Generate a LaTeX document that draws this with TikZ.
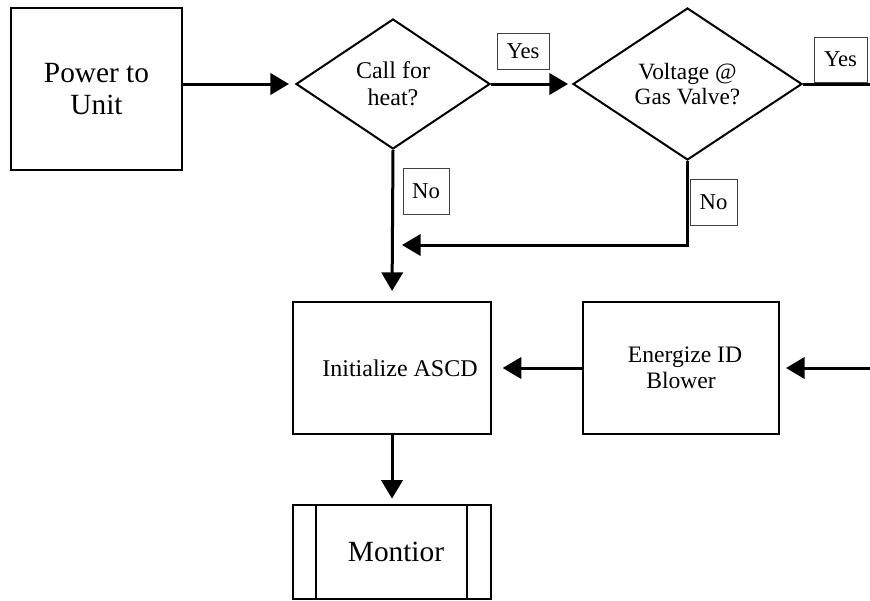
\documentclass[tikz,border=0pt]{standalone}
\usepackage{fontspec}
\setmainfont{Liberation Serif}
\usetikzlibrary{shapes.geometric,arrows.meta}
\begin{document}
\begin{tikzpicture}[x=0.75pt,y=-0.75pt,
  box/.style={draw,line width=1.5pt,inner sep=0pt,align=center},
  decision/.style={draw,diamond,line width=1.5pt,inner sep=0pt,aspect=1.5,align=center},
  answer/.style={draw=black!75,line width=0.6pt,inner sep=0pt,font=\fontsize{17}{19}\selectfont},
  flow/.style={line width=2.25pt,-{Triangle[length=14pt,width=16pt]}}]
\useasboundingbox (0,0) rectangle (870,600);
\node[box,minimum width=128.25pt,minimum height=121.5pt,font=\fontsize{22}{24}\selectfont] (power) at (96.5,89) {Power to\\Unit};
\node[decision,minimum width=145.5pt,minimum height=97.5pt,font=\fontsize{18}{20.5}\selectfont] (call) at (393,84) {Call for\\heat?};
\node[decision,minimum width=171.75pt,minimum height=114pt,font=\fontsize{17.5}{18.5}\selectfont] (volt) at (687.5,84) {Voltage @\\Gas Valve?};
\node[box,minimum width=148.5pt,minimum height=99pt,font=\fontsize{18}{20}\selectfont] (init) at (392,368) {\hspace{12pt}Initialize ASCD};
\node[box,minimum width=147pt,minimum height=99pt,font=\fontsize{17.7}{19.5}\selectfont] (energize) at (681,368) {\hspace{6pt}Energize ID\\Blower};
\node[box,minimum width=148.5pt,minimum height=70.5pt,font=\fontsize{22}{24}\selectfont] (mon) at (392,552) {\hspace{6pt}Montior};
\draw[line width=1.5pt] ([xshift=18pt]mon.north west) -- ([xshift=18pt]mon.south west);
\draw[line width=1.5pt] ([xshift=-18.75pt]mon.north east) -- ([xshift=-18.75pt]mon.south east);
\node[answer,minimum width=39pt,minimum height=27pt] (yes1) at (523,51) {Yes};
\node[answer,minimum width=39.75pt,minimum height=33.75pt] (yes2) at (840.5,59.5) {Yes};
\node[answer,minimum width=34.5pt,minimum height=34.5pt] (no1) at (426,191) {No};
\node[answer,minimum width=35.25pt,minimum height=34.5pt] (no2) at (713.5,202) {No};
\coordinate (yesout) at (870,84);
\coordinate (merge) at (392,245);
\coordinate (feed) at (870,368);
\draw[flow,shorten >=4.5pt] (power.east |- call.west) -- (call.west);
\draw[flow,shorten >=3pt] (call.east) -- (volt.west);
\draw[line width=2.25pt] (volt.east) -- (yesout);
\draw[flow,shorten >=7.5pt] (call.south) -- (init.north);
\draw[flow,shorten >=7.5pt] (volt.south) |- (merge);
\draw[flow,shorten >=8pt] (energize.west) -- (init.east);
\draw[flow,shorten >=4.5pt] (feed) -- (energize.east);
\draw[flow,shorten >=4pt] (init.south) -- (mon.north);
\end{tikzpicture}
\end{document}
